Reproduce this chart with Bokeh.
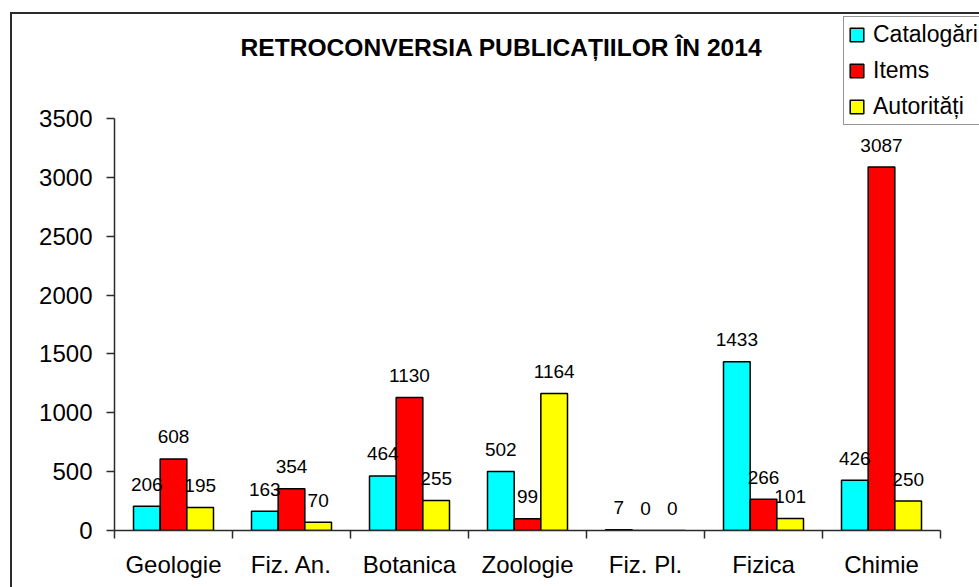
from bokeh.plotting import figure
from bokeh.models import (Range1d, FixedTicker, ColumnDataSource, LabelSet, Label,
                          Legend, LegendItem)
from bokeh.core.properties import value
from bokeh.embed import file_html
from bokeh.resources import INLINE

categories = ["Geologie", "Fiz. An.", "Botanica", "Zoologie", "Fiz. Pl.", "Fizica", "Chimie"]
catalogari = [206, 163, 464, 502, 7, 1433, 426]
items = [608, 354, 1130, 99, 0, 266, 3087]
autoritati = [195, 70, 255, 1164, 0, 101, 250]
series_names = ["Catalogări", "Items", "Autorități"]
series_colors = ["#00FFFF", "#FF0000", "#FFFF00"]
y_ticks = [0, 500, 1000, 1500, 2000, 2500, 3000, 3500]
y_max = 3500
title_text = "RETROCONVERSIA PUBLICAȚIILOR ÎN 2014"

FONT = "Liberation Sans"
BAR_W = 0.226

# geometry (pixels on the canvas)
W, H = 979, 587
LEFT, TOP, BOTTOM = 114, 12, 57
AXIS_TOP = 118          # canvas y of the top of the value axis
AXIS_RIGHT = 940        # canvas x of the end of the category axis
frame_w = W - LEFT
frame_h = H - TOP - BOTTOM
axis_h = frame_h - (AXIS_TOP - TOP)
axis_w = AXIS_RIGHT - LEFT
axis_y = H - BOTTOM
n = len(categories)

p = figure(width=W, height=H, output_backend="svg", toolbar_location=None, title=None,
           x_range=Range1d(0, n * frame_w / axis_w),
           y_range=Range1d(0, y_max * frame_h / axis_h),
           min_border_left=LEFT, min_border_right=0, min_border_top=TOP,
           min_border_bottom=BOTTOM)
p.styles = {"box-shadow": "inset 10px 12px 0 0 white, inset 12px 14px 0 0 #2b2b2b"}
p.outline_line_color = None
p.background_fill_color = None
p.border_fill_color = None
p.xgrid.visible = False
p.ygrid.visible = False

renderers = []
for k, (name, vals, col) in enumerate(zip(series_names, [catalogari, items, autoritati], series_colors)):
    off = (k - 1) * BAR_W
    xs = [i + 0.5 + off for i in range(n)]
    src = ColumnDataSource(dict(x=xs, top=vals, text=[str(v) for v in vals]))
    r = p.vbar(x="x", top="top", bottom=0, width=BAR_W, source=src,
               fill_color=col, line_color="black", line_width=1.5)
    renderers.append((name, r))
    labels = LabelSet(x="x", y="top", text="text", source=src, text_align="center",
                      text_baseline="middle", y_offset=22, text_font=value(FONT),
                      text_font_size=value("19px"), text_color="black")
    p.add_layout(labels)

title = Label(x=501 - LEFT, y=axis_y - 47, x_units="screen", y_units="screen",
              text=title_text, text_font=FONT, text_font_size="24.6px",
              text_font_style="bold", text_color="black", text_align="center",
              text_baseline="middle")
p.add_layout(title)

# axes
p.yaxis.bounds = (0, y_max)
p.yaxis.ticker = FixedTicker(ticks=y_ticks)
p.yaxis.major_label_text_font = FONT
p.yaxis.major_label_text_font_size = "24px"
p.yaxis.major_label_text_color = "black"
p.yaxis.major_tick_out = 8
p.yaxis.major_tick_in = 0
p.yaxis.minor_tick_out = 0
p.yaxis.minor_tick_in = 0
p.yaxis.major_label_standoff = 14
p.yaxis.axis_line_color = "#2b2b2b"
p.yaxis.axis_line_width = 1.5
p.yaxis.major_tick_line_color = "#2b2b2b"
p.yaxis.major_tick_line_width = 1.5

centers = [i + 0.5 for i in range(n)]
bounds = [i for i in range(n + 1)]
p.xaxis.bounds = (0, n)
p.xaxis.ticker = FixedTicker(ticks=centers, minor_ticks=bounds)
p.xaxis.major_label_overrides = {c: lab for c, lab in zip(centers, categories)}
p.xaxis.major_label_text_font = FONT
p.xaxis.major_label_text_font_size = "24px"
p.xaxis.major_label_text_color = "black"
p.xaxis.major_tick_out = 0
p.xaxis.major_tick_in = 0
p.xaxis.minor_tick_out = 8
p.xaxis.minor_tick_in = 0
p.xaxis.minor_tick_line_color = "#2b2b2b"
p.xaxis.minor_tick_line_width = 1.5
p.xaxis.major_label_standoff = 12
p.xaxis.axis_line_color = "#2b2b2b"
p.xaxis.axis_line_width = 1.5

legend = Legend(items=[LegendItem(label=nm, renderers=[r]) for nm, r in renderers],
                location=(843 - LEFT, axis_y - 125))
legend.label_text_font = FONT
legend.label_text_font_size = "23px"
legend.label_text_color = "black"
legend.glyph_width = 17
legend.glyph_height = 17
legend.label_height = 17
legend.label_standoff = 8
legend.padding = 4
legend.spacing = 9
legend.margin = 0
legend.border_line_color = "#2b2b2b"
legend.border_line_width = 1.5
legend.background_fill_color = "white"
legend.background_fill_alpha = 1
p.add_layout(legend)

open("out.html", "w").write(file_html(p, INLINE))
